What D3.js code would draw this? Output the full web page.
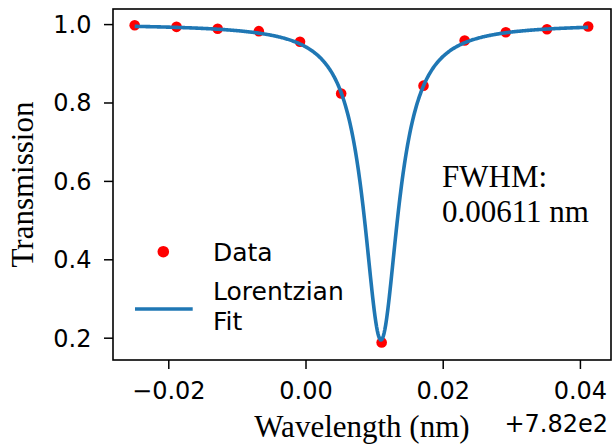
<!DOCTYPE html>
<html>
<head>
<meta charset="utf-8">
<script src="https://cdn.jsdelivr.net/npm/d3@7"></script>
<style>
  html, body { margin: 0; padding: 0; background: #fff; }
  svg { display: block; }
</style>
</head>
<body>
<svg id="chart" width="614" height="445"></svg>
<script>
// Wavelength offsets (nm, relative to 7.82e2)
const wavelengths = [-0.0249, -0.0188, -0.0128, -0.0068, -0.0008, 0.0052, 0.0111, 0.0172, 0.0232, 0.0292, 0.0352, 0.0412];
// Measured transmission
const transmission = [0.997, 0.993, 0.988, 0.982, 0.955, 0.823, 0.188, 0.843, 0.958, 0.979, 0.987, 0.994];
// Lorentzian fit parameters
const fitCenter = 0.0110;
const fitFWHM = 0.00611;
const fitDepth = 0.806;
const fitBaseline = 1.0;
const xTicks = [-0.02, 0.00, 0.02, 0.04];
const yTicks = [0.2, 0.4, 0.6, 0.8, 1.0];
const offsetLabel = "+7.82e2";
const annotation = ["FWHM:", "0.00611 nm"];
const legendLabels = ["Data", ["Lorentzian", "Fit"]];

const svg = d3.select("#chart");
const L = 113, R = 611, T = 9, B = 360;

const x = d3.scaleLinear().domain([-0.02806, 0.04453]).range([L, R]);
const y = d3.scaleLinear().domain([0.1431, 1.0385]).range([B, T]);

const sans = "'DejaVu Sans', sans-serif";
const serif = "'Liberation Serif', 'Times New Roman', serif";

// Fit curve samples over the data range
const nFit = 600;
const x0 = wavelengths[0], x1 = wavelengths[wavelengths.length - 1];
const fitX = d3.range(nFit + 1).map(i => x0 + (x1 - x0) * i / nFit);
const lorentz = v => fitBaseline - fitDepth / (1 + Math.pow((v - fitCenter) / (fitFWHM / 2), 2));

// Data points
svg.append("g").selectAll("circle")
  .data(wavelengths.map((w, i) => [w, transmission[i]]))
  .join("circle")
  .attr("cx", d => x(d[0]))
  .attr("cy", d => y(d[1]))
  .attr("r", 5.3)
  .attr("fill", "#ff0000");

// Fit line
svg.append("path")
  .datum(fitX)
  .attr("fill", "none")
  .attr("stroke", "#1f77b4")
  .attr("stroke-width", 3.6)
  .attr("stroke-linejoin", "round")
  .attr("d", d3.line().x(d => x(d)).y(d => y(lorentz(d))));

// Axes
const fmtX = d3.format(".2f");
const xAxis = svg.append("g")
  .attr("transform", `translate(0,${B})`)
  .call(d3.axisBottom(x).tickValues(xTicks).tickFormat(fmtX).tickSize(9).tickSizeOuter(0));
xAxis.select(".domain").remove();
xAxis.selectAll(".tick line").attr("stroke", "#000").attr("stroke-width", 1.5);
xAxis.selectAll(".tick text")
  .attr("y", 39).attr("dy", 0)
  .attr("font-family", sans).attr("font-size", 24).attr("fill", "#000");

const yAxis = svg.append("g")
  .attr("transform", `translate(${L},0)`)
  .call(d3.axisLeft(y).tickValues(yTicks).tickFormat(d3.format(".1f")).tickSize(9).tickSizeOuter(0));
yAxis.select(".domain").remove();
yAxis.selectAll(".tick line").attr("stroke", "#000").attr("stroke-width", 1.5);
yAxis.selectAll(".tick text")
  .attr("x", -21.5).attr("dy", 0).attr("y", 8.5)
  .attr("font-family", sans).attr("font-size", 24).attr("fill", "#000");

// Frame
svg.append("rect")
  .attr("x", L).attr("y", T).attr("width", R - L).attr("height", B - T)
  .attr("fill", "none").attr("stroke", "#000").attr("stroke-width", 1.6);

// Offset text
svg.append("text")
  .attr("x", 608).attr("y", 431.5)
  .attr("text-anchor", "end")
  .attr("font-family", sans).attr("font-size", 24).attr("fill", "#000")
  .text(offsetLabel);

// Axis labels
svg.append("text")
  .attr("x", (L + R) / 2).attr("y", 437)
  .attr("text-anchor", "middle")
  .attr("font-family", serif).attr("font-size", 31).attr("fill", "#000")
  .text("Wavelength (nm)");

svg.append("text")
  .attr("transform", `translate(33,${(T + B) / 2}) rotate(-90)`)
  .attr("text-anchor", "middle")
  .attr("font-family", serif).attr("font-size", 31).attr("fill", "#000")
  .text("Transmission");

// Annotation
svg.append("text")
  .attr("font-family", serif).attr("font-size", 31).attr("fill", "#000")
  .selectAll("tspan").data(annotation).join("tspan")
  .attr("x", 442).attr("y", (d, i) => 187.3 + i * 34.4)
  .text(d => d);

// Legend
svg.append("circle").attr("cx", 163.3).attr("cy", 251.7).attr("r", 5.8).attr("fill", "#ff0000");
svg.append("text").attr("x", 213).attr("y", 260.7)
  .attr("font-family", sans).attr("font-size", 25).attr("fill", "#000")
  .text(legendLabels[0]);
svg.append("line").attr("x1", 135).attr("x2", 192.7).attr("y1", 309).attr("y2", 309)
  .attr("stroke", "#1f77b4").attr("stroke-width", 3.6);
svg.append("text")
  .attr("font-family", sans).attr("font-size", 25).attr("fill", "#000")
  .selectAll("tspan").data(legendLabels[1]).join("tspan")
  .attr("x", 213).attr("y", (d, i) => 300 + i * 30)
  .text(d => d);
</script>
</body>
</html>
